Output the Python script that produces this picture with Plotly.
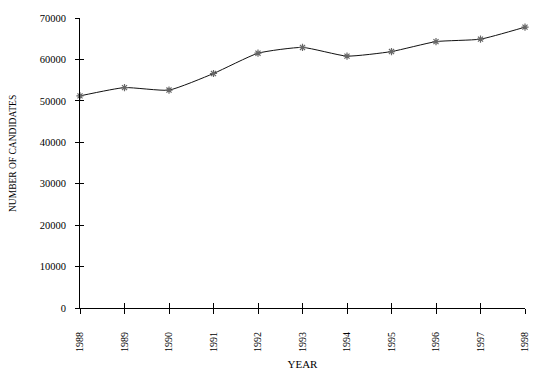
import plotly.graph_objects as go

years = [1988, 1989, 1990, 1991, 1992, 1993, 1994, 1995, 1996, 1997, 1998]
candidates = [51200, 53200, 52600, 56600, 61500, 62900, 60800, 61900, 64300, 64900, 67800]
year_labels = [str(y) for y in years]
y_ticks = [0, 10000, 20000, 30000, 40000, 50000, 60000, 70000]
y_tick_labels = [str(v) for v in y_ticks]

font_family = "Liberation Serif, Times New Roman, serif"

fig = go.Figure()
fig.add_trace(go.Scatter(
    x=years, y=candidates,
    mode="lines+markers",
    line=dict(color="#111111", width=1, shape="spline", smoothing=0.5),
    marker=dict(symbol="asterisk-open", size=6, color="#666666",
                line=dict(color="#666666", width=1.2)),
    showlegend=False, cliponaxis=False,
))
# invisible trace on overlay axes to get crossing ticks
fig.add_trace(go.Scatter(x=years, y=candidates, xaxis="x2", yaxis="y2",
                         mode="markers", marker=dict(opacity=0), showlegend=False,
                         hoverinfo="skip"))

fig.update_layout(
    width=540, height=376,
    margin=dict(l=80, r=15, t=18, b=68, autoexpand=False),
    paper_bgcolor="white", plot_bgcolor="white",
    font=dict(family=font_family, color="#000000", size=10.5),
    xaxis=dict(
        range=[1988, 1998], tickmode="array", tickvals=years, ticktext=year_labels,
        tickangle=-90, ticks="outside", ticklen=5, tickcolor="#000", tickwidth=1,
        showline=True, linecolor="#000", linewidth=1, showgrid=False, zeroline=False,
        ticklabelstandoff=14,
        title=dict(text="YEAR", font=dict(size=11, family=font_family), standoff=9),
        tickfont=dict(size=10, family=font_family),
    ),
    yaxis=dict(
        range=[0, 70000], tickmode="array", tickvals=y_ticks, ticktext=y_tick_labels,
        ticks="outside", ticklen=4, tickcolor="#000", tickwidth=1,
        showline=True, linecolor="#000", linewidth=1, showgrid=False, zeroline=False,
        ticklabelstandoff=7,
        tickfont=dict(size=10.5, family=font_family),
    ),
    xaxis2=dict(overlaying="x", matches="x", anchor="y2", ticks="inside", ticklen=5,
                tickmode="array", tickvals=years, showticklabels=False, tickcolor="#000",
                showline=False, showgrid=False, zeroline=False, range=[1988, 1998]),
    yaxis2=dict(overlaying="y", matches="y", anchor="x2", ticks="inside", ticklen=4,
                tickmode="array", tickvals=y_ticks, showticklabels=False, tickcolor="#000",
                showline=False, showgrid=False, zeroline=False, range=[0, 70000]),
    annotations=[dict(
        text="NUMBER OF CANDIDATES", textangle=-90, showarrow=False,
        xref="paper", yref="paper", x=0, y=0.531, xshift=-67,
        xanchor="center", yanchor="middle",
        font=dict(size=9.5, family=font_family, color="#000"),
    )],
)

fig.write_html("out.html", config={"displayModeBar": False},
               post_script="document.body.style.margin='0';")
